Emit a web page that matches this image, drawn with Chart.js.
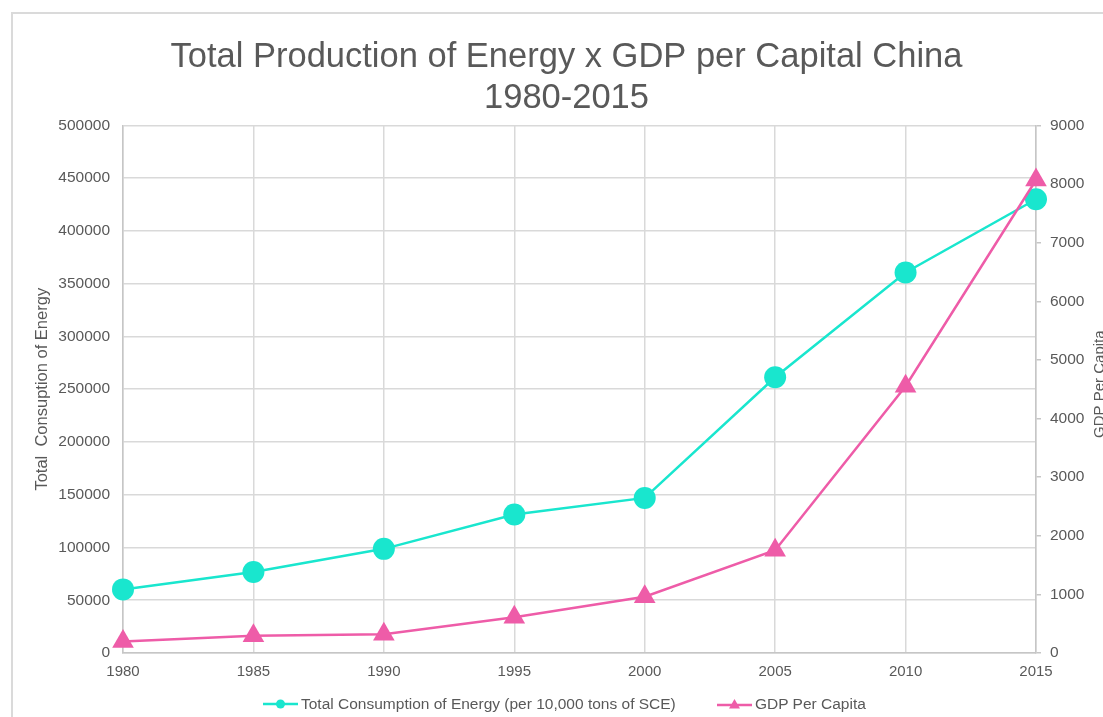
<!DOCTYPE html>
<html lang="en">
<head>
<meta charset="UTF-8">
<title>Total Production of Energy x GDP per Capital China</title>
<style>
  * { box-sizing: border-box; margin: 0; padding: 0; }
  body { background: #fff; width: 1103px; height: 717px; overflow: hidden; position: relative; font-family: "Liberation Sans", Arial, sans-serif; }
  .frame { position: absolute; left: 11px; top: 12px; width: 1200px; height: 800px; border: 2px solid #dadada; }
  .wrap { position: absolute; left: 0; top: 0; width: 1103px; height: 717px; }
  .leg { position: absolute; top: 695px; display: flex; align-items: center; gap: 3px; font-size: 15.5px; color: #595959; white-space: nowrap; }
  .leg svg { display: block; }
</style>
</head>
<body>
<div class="frame"></div>
<div class="wrap"><canvas id="c"></canvas></div>
<div class="leg" style="left:263px">
  <svg width="35" height="14"><line x1="0" y1="7" x2="35" y2="7" stroke="#19E6CE" stroke-width="2.5"/><circle cx="17.5" cy="7" r="4.5" fill="#19E6CE"/></svg>
  <span>Total Consumption of Energy (per 10,000 tons of SCE)</span>
</div>
<div class="leg" style="left:717px">
  <svg width="35" height="14"><line x1="0" y1="8" x2="35" y2="8" stroke="#EE5CA8" stroke-width="2.5"/><polygon points="17.5,2 23,11.5 12,11.5" fill="#EE5CA8"/></svg>
  <span>GDP Per Capita</span>
</div>

<script src="https://cdnjs.cloudflare.com/ajax/libs/Chart.js/4.4.1/chart.umd.js"></script>
<script>
const years = ['1980','1985','1990','1995','2000','2005','2010','2015'];
const energy = [60275, 76682, 98703, 131176, 146964, 261369, 360648, 430000];
const gdpPc = [195, 294, 318, 610, 959, 1753, 4550, 8069];

const txt = '#595959';
const grid = '#d9d9d9';
const axisLine = '#c6c6c6';
const fam = '"Liberation Sans", Arial, sans-serif';

// right axis title reads bottom-to-top and runs off the edge
const rightTitle = {
  id:'rightTitle',
  afterDraw(chart){
    const a = chart.chartArea, ctx = chart.ctx;
    ctx.save();
    ctx.translate(1100, (a.top + a.bottom) / 2 - 5);
    ctx.rotate(-Math.PI / 2);
    ctx.font = '15px ' + fam;
    ctx.fillStyle = txt;
    ctx.textAlign = 'center';
    ctx.textBaseline = 'middle';
    ctx.fillText('GDP Per Capita', 0, 0);
    ctx.restore();
  }
};

new Chart(document.getElementById('c'), {
  type:'line',
  data:{
    labels:years,
    datasets:[
      {label:'Total Consumption of Energy (per 10,000 tons of SCE)', data:energy, yAxisID:'y',
       borderColor:'#19E6CE', backgroundColor:'#19E6CE', borderWidth:2.5,
       pointStyle:'circle', pointRadius:11, pointHoverRadius:11, pointBorderWidth:0, tension:0, order:1},
      {label:'GDP Per Capita', data:gdpPc, yAxisID:'y2',
       borderColor:'#EE5CA8', backgroundColor:'#EE5CA8', borderWidth:2.5,
       pointStyle:'triangle', pointRadius:12.5, pointHoverRadius:12.5, pointBorderWidth:0, tension:0, order:0},
    ]
  },
  options:{
    responsive:true, maintainAspectRatio:false, animation:false,
    layout:{padding:{left:30,right:0,top:0,bottom:0}},
    plugins:{
      legend:{display:false},
      tooltip:{enabled:false},
      title:{display:true, text:['Total Production of Energy x GDP per Capital China','1980-2015'],
             color:txt, font:{family:fam, size:34.5, weight:'normal', lineHeight:1.18}, padding:{top:37,bottom:7}}
    },
    scales:{
      x:{
        grid:{color:grid, lineWidth:1.5, drawTicks:false},
        border:{color:axisLine, width:1.5},
        offset:false,
        ticks:{color:txt, font:{family:fam, size:15}, padding:10, maxRotation:0},
        afterFit:s=>{ s.height = 64; }
      },
      y:{
        position:'left', min:0, max:500000,
        grid:{color:grid, lineWidth:1.5, drawTicks:false},
        border:{color:axisLine, width:1.5},
        ticks:{stepSize:50000, color:txt, font:{family:fam, size:15.5}, padding:13, callback:v=>String(v)},
        title:{display:true, text:'Total  Consuption of Energy', color:txt, font:{family:fam, size:16.5}, padding:{top:3,bottom:0}},
        afterFit:s=>{ s.width = 93; }
      },
      y2:{
        position:'right', min:0, max:9000,
        grid:{drawOnChartArea:false, drawTicks:true, tickLength:5, color:axisLine, lineWidth:1.5},
        border:{color:axisLine, width:1.5},
        ticks:{stepSize:1000, color:txt, font:{family:fam, size:15.5}, padding:9, callback:v=>String(v)},
        afterFit:s=>{ s.width = 1103 - 1036; }
      }
    }
  },
  plugins:[rightTitle]
});
</script>
</body>
</html>
